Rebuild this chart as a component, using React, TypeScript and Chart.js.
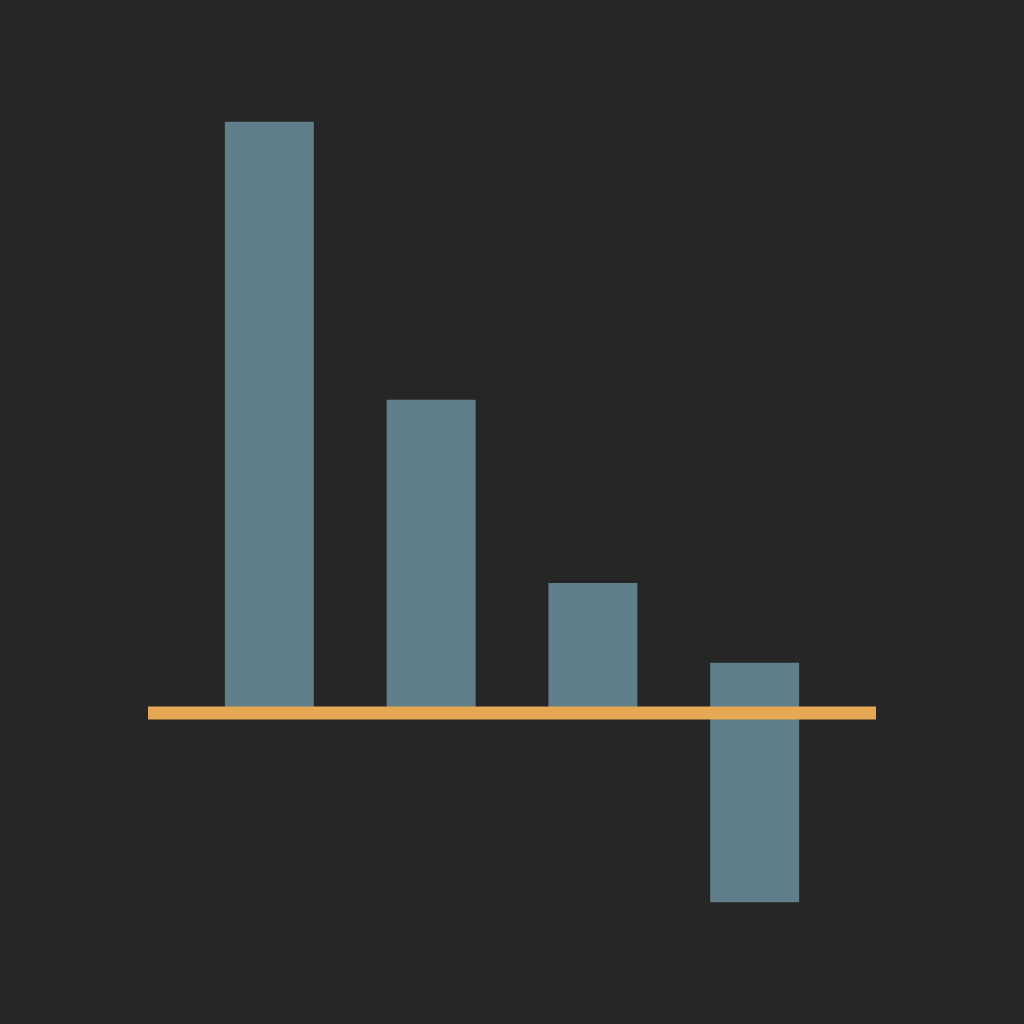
import React, { useEffect, useRef } from 'react';
import Chart from 'chart.js/auto';

// four columns, the last one floats across the baseline
const categories = ['A', 'B', 'C', 'D'];
const barPositions = [0, 1, 2, 3];
const barLows = [0, 0, 0, -32];
const barHighs = [100, 53, 22, 8.5];

// orange baseline, from edge to edge of the bars' span
const baselineX = [-0.75, 3.75];
const baselineY = [0, 0];

const BG = '#262626';
const BAR = '#5f7f8a';
const LINE = '#e6a853';

const App: React.FC = () => {
  const canvasRef = useRef<HTMLCanvasElement | null>(null);
  const chartRef = useRef<Chart | null>(null);

  useEffect(() => {
    document.body.style.margin = '0';
    document.body.style.background = BG;
    const ctx = canvasRef.current?.getContext('2d');
    if (!ctx) return;
    if (chartRef.current) chartRef.current.destroy();

    chartRef.current = new Chart(ctx, {
      type: 'bar',
      data: {
        datasets: [
          {
            type: 'line',
            label: 'baseline',
            data: baselineX.map((x, i) => ({ x, y: baselineY[i] })),
            borderColor: LINE,
            borderWidth: 13,
            borderCapStyle: 'butt',
            pointRadius: 0,
            order: 0,
          },
          {
            type: 'bar',
            label: categories.join(''),
            data: barPositions.map((x, i) => ({ x, y: [barLows[i], barHighs[i]] })) as any,
            backgroundColor: BAR,
            borderWidth: 0,
            categoryPercentage: 1,
            barPercentage: 0.827,
            order: 1,
          },
        ],
      },
      options: {
        animation: false,
        responsive: false,
        parsing: { xAxisKey: 'x', yAxisKey: 'y' },
        layout: { padding: 0 },
        plugins: {
          legend: { display: false },
          tooltip: { enabled: false },
        },
        scales: {
          x: { type: 'linear', min: -1.665, max: 4.665, offset: false, display: false },
          y: { type: 'linear', min: -52.6, max: 120.6, display: false },
        },
      },
    });

    return () => {
      if (chartRef.current) {
        chartRef.current.destroy();
        chartRef.current = null;
      }
    };
  }, []);

  return (
    <div style={{ width: 1024, height: 1024, background: BG }}>
      <canvas ref={canvasRef} width={1024} height={1024} style={{ width: 1024, height: 1024 }} />
    </div>
  );
};

export default App;
